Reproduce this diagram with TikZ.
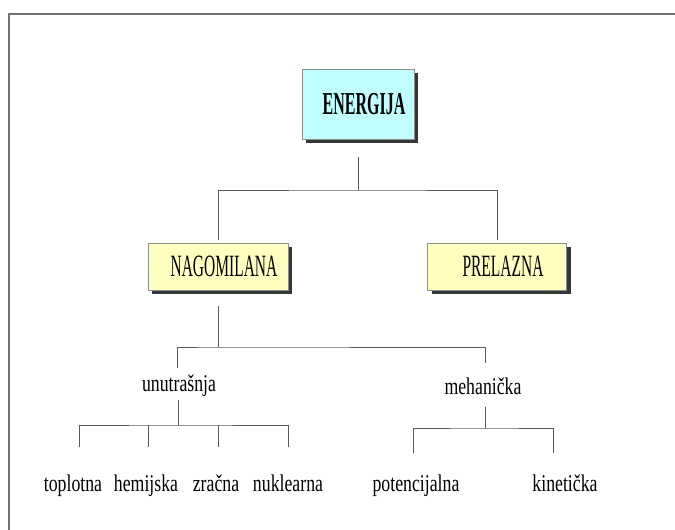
\documentclass[tikz,border=0pt]{standalone}
\usepackage{fontspec}
\setmainfont{Liberation Serif}
\newfontfamily\boxfont[FakeStretch=0.5]{Liberation Serif}
\newfontfamily\leaffont[FakeStretch=0.74]{Liberation Serif}
\usetikzlibrary{shadows, positioning}
\definecolor{topcyan}{RGB}{192,255,255}
\definecolor{kindyellow}{RGB}{255,255,192}
\definecolor{shadowgray}{RGB}{50,55,55}
\tikzset{
  kind/.style={draw=black!45, line width=0.6pt, inner sep=0pt,
    font=\boxfont\fontsize{31}{34}\selectfont,
    drop shadow={shadow xshift=4pt, shadow yshift=-4pt, fill=shadowgray, opacity=1},
    execute at begin node=\hspace*{12pt}},
  leaf/.style={font=\leaffont\fontsize{24}{26}\selectfont, inner sep=2pt, anchor=base},
  link/.style={draw=black!65, line width=0.9pt},
}

\begin{document}
\begin{tikzpicture}[x=1pt, y=-1pt]
    \useasboundingbox (0,0) rectangle (675,530);
    % Frame
    \draw[black!55, line width=1.5pt] (9,530) |- (675,14);

    % Boxes
    \node[kind, fill=topcyan, minimum width=112pt, minimum height=70pt,
          font=\boxfont\bfseries\fontsize{32}{34}\selectfont] (energija) at (358,104) {ENERGIJA};
    \node[kind, fill=kindyellow, minimum width=140pt, minimum height=47pt] (nagomilana) at (218,266.5) {NAGOMILANA};
    \node[kind, fill=kindyellow, minimum width=139pt, minimum height=47pt] (prelazna) at (497,266.5) {PRELAZNA};

    % Middle level
    \node[leaf] (unutrasnja) at (179,391) {unutrašnja};
    \node[leaf] (mehanicka) at (483,394) {mehanička};

    % Leaves
    \foreach \x/\name/\txt in {73/toplotna/toplotna, 146/hemijska/hemijska,
        216/zracna/zračna, 288/nuklearna/nuklearna, 416/potencijalna/potencijalna,
        565/kineticka/kinetička} {
        \node[leaf] (\name) at (\x,491) {\txt};
    }

    % Junctions
    \coordinate (j1) at (358,190);
    \coordinate (j2) at (218,347);
    \coordinate (j3) at (178,425);
    \coordinate (j4) at (485,428);

    % Top branch
    \draw[link, shorten <=18pt] (energija.south) -- (j1);
    \draw[link, shorten <=3pt, shorten >=3pt] (nagomilana.north) |- (j1) -| (prelazna.north);

    % Second branch
    \draw[link, shorten <=16pt] (nagomilana.south) -- (j2);
    \draw[link] ([xshift=-2pt, yshift=23pt]unutrasnja.base) |- (j2) -| ([xshift=2pt, yshift=31pt]mehanicka.base);

    % Leaf branches
    \draw[link] ([xshift=-1pt, yshift=-9pt]unutrasnja.base) -- (j3);
    \draw[link] ([xshift=6pt, yshift=44pt]toplotna.base) |- (j3) -| ([yshift=44pt]nuklearna.base);
    \foreach \name in {hemijska, zracna}
        \draw[link] ([xshift=2pt, yshift=44pt]\name.base) -- ([xshift=2pt]\name.base |- j3);
    \draw[link] ([xshift=2pt, yshift=-13pt]mehanicka.base) -- (j4);
    \draw[link] ([xshift=-3pt, yshift=38pt]potencijalna.base) |- (j4) -| ([xshift=-12pt, yshift=38pt]kineticka.base);
\end{tikzpicture}
\end{document}
